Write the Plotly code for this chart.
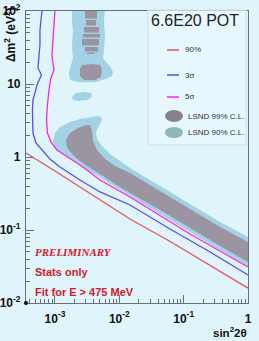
import plotly.graph_objects as go

# ---------------- data ----------------
red90_x = [3.0e-4, 3.54e-4, 1.0e-3, 3.5e-3, 1.466e-2, 0.0637, 0.258, 1.0]
red90_y = [1.25, 1.135, 0.643, 0.321, 0.1416, 0.0686, 0.0332, 0.016]

blue3s_x = [6.29e-4, 6.05e-4, 5.85e-4, 5.85e-4, 5.64e-4, 5.44e-4, 6.16e-4, 5.64e-4, 5.25e-4,
            4.89e-4, 4.55e-4, 4.47e-4, 4.47e-4, 4.55e-4, 5.07e-4, 6.29e-4, 8.36e-4, 1.196e-3,
            2.448e-3, 5.01e-3, 1.466e-2, 0.0614, 0.258, 1.0]
blue3s_y = [101, 75.4, 55.0, 34.2, 25.0, 16.6, 13.3, 11.35, 9.68, 7.54, 6.04, 4.41, 3.21, 2.13,
            1.556, 1.25, 0.94, 0.73, 0.484, 0.332, 0.22, 0.103, 0.05, 0.0242]

mag5s_x = [1.0e-3, 9.65e-4, 8.97e-4, 9.31e-4, 9.65e-4, 8.67e-4, 8.07e-4, 7.65e-4, 7.38e-4,
           7.65e-4, 8.67e-4, 1.074e-3, 1.71e-3, 2.72e-3, 5.01e-3, 1.466e-2, 0.1257, 1.0]
mag5s_y = [101, 55.0, 25.0, 19.4, 15.6, 12.1, 8.28, 5.15, 3.21, 2.13, 1.60, 1.25, 0.968, 0.73,
           0.484, 0.283, 0.088, 0.0311]

lsnd90_band_x = [9.31e-4, 1.0e-3, 1.196e-3, 1.71e-3, 2.448e-3, 3.50e-3, 4.5e-3, 5.19e-3, 5.38e-3,
                 4.84e-3, 4.34e-3, 4.5e-3, 5.38e-3, 7.17e-3, 1.025e-2, 1.466e-2, 0.043, 0.1257,
                 0.368, 1.0, 1.0, 0.368, 0.1257, 0.043, 1.466e-2, 7.17e-3, 5.01e-3, 3.50e-3,
                 2.448e-3, 1.71e-3, 1.285e-3, 1.0e-3]
lsnd90_band_y = [1.60, 2.13, 2.58, 3.01, 3.32, 3.53, 3.64, 3.53, 3.21, 2.66, 2.20, 1.77, 1.42,
                 1.10, 0.881, 0.706, 0.401, 0.227, 0.1288, 0.080, 0.0321, 0.0532, 0.094,
                 0.1656, 0.292, 0.427, 0.532, 0.623, 0.776, 0.968, 1.135, 1.29]

lsnd90_island_x = [1.838e-3, 5.99e-3, 5.78e-3, 5.99e-3, 5.78e-3, 5.579e-3, 6.21e-3, 7.17e-3,
                   7.98e-3, 7.70e-3, 5.99e-3, 4.19e-3, 2.448e-3, 1.71e-3, 1.651e-3, 1.774e-3,
                   1.905e-3, 1.838e-3, 1.905e-3, 1.838e-3]
lsnd90_island_y = [100, 100, 75.3, 46.9, 29.3, 22.7, 20.0, 17.6, 14.6, 12.9, 11.7, 10.6, 10.6,
                   11.35, 14.6, 17.6, 22.7, 34.2, 55.0, 75.3]

lsnd90_blob_x = [1.838e-3, 2.121e-3, 2.825e-3, 3.63e-3, 3.762e-3, 3.26e-3, 2.279e-3, 1.905e-3]
lsnd90_blob_y = [6.64, 7.53, 7.77, 7.53, 6.85, 6.04, 5.85, 6.04]

lsnd99_band_x = [1.483e-3, 1.71e-3, 2.279e-3, 3.034e-3, 3.50e-3, 3.762e-3, 3.899e-3, 4.5e-3,
                 5.78e-3, 8.57e-3, 1.466e-2, 0.043, 0.1257, 0.368, 1.0, 1.0, 0.368, 0.1257,
                 0.043, 1.466e-2, 8.57e-3, 5.01e-3, 3.50e-3, 2.448e-3, 1.838e-3, 1.537e-3]
lsnd99_band_y = [1.71, 2.13, 2.50, 2.74, 2.74, 2.27, 1.66, 1.25, 0.968, 0.753, 0.604, 0.342,
                 0.194, 0.110, 0.0686, 0.0365, 0.0604, 0.1065, 0.188, 0.321, 0.427, 0.585,
                 0.706, 0.881, 1.10, 1.37]

lsnd99_block_x = [2.63e-3, 3.762e-3, 5.01e-3, 5.383e-3, 5.194e-3, 4.19e-3, 2.825e-3, 2.448e-3, 2.448e-3]
lsnd99_block_y = [18.2, 18.8, 18.2, 15.6, 12.5, 11.35, 11.35, 12.9, 16.05]

# strips: (sin2 low, sin2 high, dm2 low, dm2 high)
lsnd99_strips = [
    (2.928e-3, 4.5e-3, 78.9, 100),
    (3.034e-3, 4.342e-3, 63.3, 75.3),
    (2.825e-3, 4.835e-3, 50.7, 60.4),
    (2.72e-3, 5.01e-3, 43.4, 48.4),
    (2.63e-3, 4.835e-3, 33.7, 41.4),
    (2.928e-3, 4.665e-3, 27.9, 32.1),
    (3.145e-3, 4.19e-3, 25.8, 27.0),
]

x_tickvals = [1e-3, 1e-2, 1e-1, 1]
x_ticktext = ["<b>10<sup>-3</sup></b>", "<b>10<sup>-2</sup></b>", "<b>10<sup>-1</sup></b>", "<b>1</b>"]
y_tickvals = [1e-2, 1e-1, 1, 10, 100]
y_ticktext = ["<b>10<sup>-2</sup></b>", "<b>10<sup>-1</sup></b>", "<b>1</b>", "<b>10</b>", "<b>10<sup>2</sup></b>"]

legend_labels = ["90%", "3σ", "5σ", "LSND 99% C.L.", "LSND 90% C.L."]

# ---------------- styles ----------------
BG = "#e0f4fc"
C90 = "#a3d2e4"
C99 = "#9a95a0"
RED = "#e8525e"
BLUE = "#5b4cf2"
MAG = "#ff20f0"
TXTRED = "#d71a2a"

W, H = 259, 341
L, R, T, B = 26, 11, 11, 38
PW, PH = W - L - R, H - T - B


def px(xp):
    return (xp - L) / PW


def py(yp):
    return (H - B - yp) / PH


fig = go.Figure()

for xs, ys in [(lsnd90_band_x, lsnd90_band_y), (lsnd90_island_x, lsnd90_island_y),
               (lsnd90_blob_x, lsnd90_blob_y)]:
    fig.add_trace(go.Scatter(x=xs + [xs[0]], y=ys + [ys[0]], mode="lines", fill="toself",
                             fillcolor=C90, line=dict(width=0, color=C90), hoverinfo="skip"))

for xs, ys in [(lsnd99_band_x, lsnd99_band_y), (lsnd99_block_x, lsnd99_block_y)]:
    fig.add_trace(go.Scatter(x=xs + [xs[0]], y=ys + [ys[0]], mode="lines", fill="toself",
                             fillcolor=C99, line=dict(width=0, color=C99), hoverinfo="skip"))

for (x0, x1, y0, y1) in lsnd99_strips:
    fig.add_trace(go.Scatter(x=[x0, x1, x1, x0, x0], y=[y0, y0, y1, y1, y0], mode="lines",
                             fill="toself", fillcolor=C99, line=dict(width=0, color=C99),
                             hoverinfo="skip"))

fig.add_trace(go.Scatter(x=red90_x, y=red90_y, mode="lines", line=dict(color=RED, width=1.3)))
fig.add_trace(go.Scatter(x=blue3s_x, y=blue3s_y, mode="lines", line=dict(color=BLUE, width=1.3)))
fig.add_trace(go.Scatter(x=mag5s_x, y=mag5s_y, mode="lines", line=dict(color=MAG, width=1.3)))

axis_common = dict(type="log", showgrid=False, zeroline=False, ticks="inside", ticklen=8,
                   tickcolor="#6a7078", linecolor="#6a7078", linewidth=1.2, mirror=True,
                   automargin=False,
                   tickfont=dict(family="Liberation Sans, Arial", size=12, color="#111"),
                   minor=dict(ticks="inside", ticklen=4, tickcolor="#6a7078", dtick="D1",
                              showgrid=False))

fig.update_xaxes(range=[-3.45, 0.0], tickmode="array", tickvals=x_tickvals,
                 ticktext=x_ticktext, ticklabelstandoff=4, **axis_common)
fig.update_yaxes(range=[-2, 2], tickmode="array", tickvals=y_tickvals,
                 ticktext=y_ticktext, ticklabelstandoff=2, **axis_common)

shapes = []
# legend box
shapes.append(dict(type="rect", xref="paper", yref="paper", x0=px(148), x1=px(246),
                   y0=py(145), y1=py(10), line=dict(color="#cddde5", width=1),
                   fillcolor="rgba(234,248,253,0.6)", layer="above"))
for yy, col in [(50, RED), (75, BLUE), (97, MAG)]:
    shapes.append(dict(type="line", xref="paper", yref="paper", x0=px(167), x1=px(179),
                       y0=py(yy), y1=py(yy), line=dict(color=col, width=1.5)))
shapes.append(dict(type="circle", xref="paper", yref="paper", x0=px(165), x1=px(183),
                   y0=py(122), y1=py(110), fillcolor="#86838c", line=dict(width=0)))
shapes.append(dict(type="circle", xref="paper", yref="paper", x0=px(165), x1=px(183),
                   y0=py(138), y1=py(127), fillcolor="#8fb6ba", line=dict(width=0)))
# origin dot
shapes.append(dict(type="circle", xref="paper", yref="paper", x0=px(24), x1=px(28),
                   y0=py(305), y1=py(301), fillcolor="#000", line=dict(width=0)))

annotations = []
annotations.append(dict(text="6.6E20 POT", xref="paper", yref="paper", x=px(195), y=py(20),
                        xanchor="center", yanchor="middle", showarrow=False,
                        font=dict(family="Liberation Sans, Arial", size=16, color="#222")))
for yy, lab in [(50, legend_labels[0]), (75, legend_labels[1]), (97, legend_labels[2]),
                (116, legend_labels[3]), (132, legend_labels[4])]:
    xx = 183 if yy < 110 else 186
    annotations.append(dict(text=lab, xref="paper", yref="paper", x=px(xx), y=py(yy),
                            xanchor="left", yanchor="middle", showarrow=False,
                            font=dict(family="Liberation Sans, Arial", size=8, color="#333")))
annotations.append(dict(text="<b><i>PRELIMINARY</i></b>", xref="paper", yref="paper",
                        x=px(33), y=py(252), xanchor="left", yanchor="middle", showarrow=False,
                        font=dict(family="Liberation Serif, Times New Roman", size=11,
                                  color=TXTRED)))
annotations.append(dict(text="<b>Stats only</b>", xref="paper", yref="paper",
                        x=px(33), y=py(272), xanchor="left", yanchor="middle", showarrow=False,
                        font=dict(family="Liberation Sans, Arial", size=11, color=TXTRED)))
annotations.append(dict(text="<b>Fit for E > 475 MeV</b>", xref="paper", yref="paper",
                        x=px(33), y=py(292), xanchor="left", yanchor="middle", showarrow=False,
                        font=dict(family="Liberation Sans, Arial", size=11, color=TXTRED)))
annotations.append(dict(text="<b>Δm<sup>2</sup> (eV<sup>2</sup>)</b>", xref="paper",
                        yref="paper", x=px(10), y=py(35), xanchor="center", yanchor="middle",
                        textangle=-90, showarrow=False,
                        font=dict(family="Liberation Sans, Arial", size=12, color="#111")))
annotations.append(dict(text="<b>sin<sup>2</sup>2θ</b>", xref="paper", yref="paper",
                        x=px(249), y=py(332), xanchor="right", yanchor="middle",
                        showarrow=False,
                        font=dict(family="Liberation Sans, Arial", size=11.5, color="#111")))

fig.update_layout(width=W, height=H, margin=dict(l=L, r=R, t=T, b=B), paper_bgcolor=BG,
                  plot_bgcolor=BG, showlegend=False, shapes=shapes, annotations=annotations)

fig.write_html("out.html", config={"displayModeBar": False},
               post_script="document.body.style.margin='0';document.body.style.background='%s';" % BG)
